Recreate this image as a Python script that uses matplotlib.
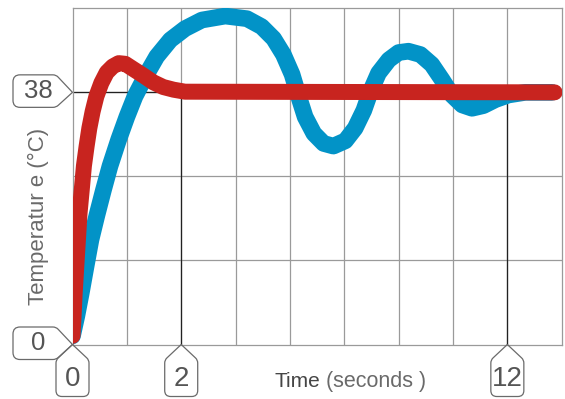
import matplotlib
matplotlib.use("Agg")
import matplotlib.pyplot as plt
from matplotlib.path import Path
from matplotlib.patches import PathPatch
from matplotlib.transforms import IdentityTransform

plt.rcParams['font.family'] = ['Liberation Sans', 'DejaVu Sans']

# time axis is schematic: grid columns, ticks labelled 0, 2, 12
tick_pos = [0, 2, 8]
tick_labels = ['0', '2', '12']
setpoint = 38

# red curve (fast, little overshoot)
red_x = [0, 0.02, 0.04, 0.07, 0.10, 0.13, 0.17, 0.21, 0.26, 0.31, 0.37, 0.44,
         0.53, 0.63, 0.74, 0.85, 0.97, 1.12, 1.31, 1.49, 1.67, 1.86, 2.07, 8.87]
red_y = [1.3, 4.3, 7.7, 11.8, 15.8, 19.8, 23.3, 26.9, 29.9, 32.6, 35.1, 37.4,
         39.4, 41.0, 41.9, 42.4, 42.3, 41.5, 40.5, 39.5, 38.8, 38.4, 38.1, 38.0]

# blue curve (slow, oscillating)
blue_x = [0, 0.08, 0.16, 0.25, 0.34, 0.45, 0.57, 0.69, 0.85, 1.00, 1.15, 1.34,
          1.55, 1.80, 2.07, 2.38, 2.81, 3.21, 3.48, 3.70, 3.88, 4.04, 4.16,
          4.28, 4.44, 4.62, 4.80, 5.02, 5.20, 5.36, 5.48, 5.63, 5.82, 6.00,
          6.18, 6.40, 6.61, 6.80, 6.98, 7.17, 7.35, 7.56, 7.78, 8.02, 8.33, 8.82]
blue_y = [1.3, 4.3, 7.7, 11.8, 15.8, 19.5, 23.3, 26.9, 30.9, 34.3, 37.4, 40.4,
          43.4, 45.9, 47.6, 48.9, 49.5, 49.1, 47.9, 46.1, 43.7, 40.7, 37.4,
          34.3, 31.8, 30.3, 29.9, 30.7, 32.6, 35.3, 38.1, 40.9, 42.9, 44.0,
          44.2, 43.7, 42.2, 39.9, 37.6, 36.1, 35.6, 36.0, 36.9, 37.6, 38.0, 38.0]

W, H = 565, 399
fig = plt.figure(figsize=(W / 100, H / 100), dpi=100)
ax = fig.add_axes([72.5 / W, (H - 344.5) / H, (561.7 - 72.5) / W, (344.5 - 8.3) / H])

step = setpoint / 3
ax.set_xlim(0, 9)
ax.set_ylim(0, 4 * step)
for i in range(1, 9):
    ax.axvline(i, color='#9a9a9a', lw=0.9, zorder=1)
for j in range(1, 4):
    ax.axhline(j * step, color='#9a9a9a', lw=0.9, zorder=1)
for s in ax.spines.values():
    s.set_color('#9a9a9a')
    s.set_linewidth(0.9)
ax.set_xticks([])
ax.set_yticks([])

# guide lines
ax.plot([0, 2], [setpoint, setpoint], color='#222222', lw=0.9, zorder=2)
ax.plot([2, 2], [0, setpoint], color='#222222', lw=0.9, zorder=2)
ax.plot([8, 8], [0, 36.2], color='#222222', lw=0.9, zorder=2)

ax.plot(blue_x, blue_y, color='#0293c7', lw=12, solid_capstyle='round',
        solid_joinstyle='round', zorder=3)
ax.plot(red_x, red_y, color='#c8241f', lw=11.5, solid_capstyle='round',
        solid_joinstyle='round', zorder=4)

ident = IdentityTransform()
edge = '#6a6a6a'
txt = '#555555'


def rounded_path(pts, radii):
    # pts in image coords (y down), polygon with optional rounded corners
    verts, codes = [], []
    n = len(pts)
    for k in range(n):
        p = pts[k]
        r = radii[k]
        if r == 0:
            verts.append(p)
            codes.append(Path.LINETO)
            continue
        a = pts[k - 1]
        b = pts[(k + 1) % n]
        def toward(q, d):
            dx, dy = q[0] - p[0], q[1] - p[1]
            L = (dx * dx + dy * dy) ** 0.5
            return (p[0] + dx / L * d, p[1] + dy / L * d)
        verts += [toward(a, r), p, toward(b, r)]
        codes += [Path.LINETO, Path.CURVE3, Path.CURVE3]
    codes[0] = Path.MOVETO
    verts.append(verts[0])
    codes.append(Path.CLOSEPOLY)
    verts = [(x, H - y) for x, y in verts]
    return Path(verts, codes)


def add_patch(pts, radii):
    patch = PathPatch(rounded_path(pts, radii), facecolor='none',
                      edgecolor=edge, lw=0.9, transform=ident, zorder=5)
    fig.add_artist(patch)


# x tick callouts
for pos, lab in zip(tick_pos, tick_labels):
    tx = ax.transData.transform((pos, 0))[0]
    ty = 344.5
    pts = [(tx, ty), (tx + 16.5, ty + 15.5), (tx + 16.5, 396.5),
           (tx - 16.5, 396.5), (tx - 16.5, ty + 15.5)]
    add_patch(pts, [0, 3, 6, 6, 3])
    fig.text(tx, H - 379, lab, transform=ident, ha='center', va='center',
             fontsize=20, color=txt)

# y tick callouts
for val, lab in [(0, '0'), (setpoint, '38')]:
    ty = H - ax.transData.transform((0, val))[1]
    tx = ax.transData.transform((0, val))[0]
    top, bot = ty - 17.5, ty + 15
    pts = [(tx, ty), (tx - 16.5, bot), (13, bot), (13, top), (tx - 16.5, top)]
    add_patch(pts, [0, 3, 7, 7, 3])
    fig.text(38, H - (ty - 1.5), lab, transform=ident, ha='center', va='center',
             fontsize=18.5, color=txt)

# axis titles
fig.text(320, H - 387, 'Time', transform=ident, ha='right', va='baseline',
         fontsize=15, color='#454545')
fig.text(326, H - 387, '(seconds )', transform=ident, ha='left', va='baseline',
         fontsize=15.5, color='#6a6a6a')
fig.text(38, H - 216, 'Temperatur e (°C)', transform=ident, ha='center',
         va='center', rotation=90, fontsize=16, color='#6a6a6a')

fig.savefig('out.png', dpi=100)
